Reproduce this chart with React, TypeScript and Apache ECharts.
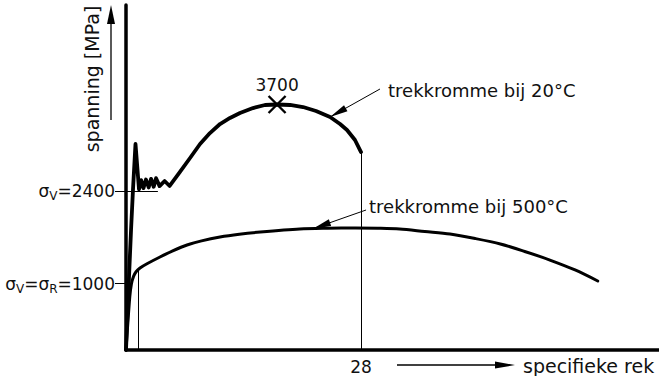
import { useEffect, useRef } from "react";
import * as echarts from "echarts";

// Tensile curve at 20 °C: specific strain [%] against stress [MPa]
const strain20 = [0, 0.24, 0.6, 0.83, 1.13, 1.55, 1.8, 2.08, 2.38, 2.7, 2.99, 3.3, 3.58, 4.0, 4.6, 5.2, 6.43, 7.63, 8.82, 10.0, 11.2, 12.39, 13.58, 15.13, 16.56, 18.0, 19.54, 21.09, 22.64, 24.31, 25.5, 26.33, 27.28, 28.0];
const stress20 = [0, 754, 1809, 2411, 3105, 2420, 2560, 2440, 2570, 2450, 2580, 2460, 2590, 2470, 2547, 2472, 2683, 2894, 3105, 3270, 3406, 3497, 3572, 3647, 3693, 3700, 3693, 3662, 3602, 3512, 3406, 3316, 3165, 2984];

// Tensile curve at 500 °C
const strain500 = [0, 0.45, 0.65, 0.9, 1.2, 1.67, 2.5, 4.05, 5.5, 7.27, 9.0, 11.2, 13.5, 16.0, 20.7, 24.0, 27.3, 30.0, 32.6, 35.6, 38.6, 41.6, 44.6, 47.5, 50.5, 53.5, 56.2];
const stress500 = [0, 800, 1000, 1110, 1180, 1236, 1300, 1402, 1490, 1583, 1645, 1703, 1745, 1778, 1824, 1835, 1839, 1835, 1824, 1786, 1748, 1680, 1598, 1485, 1356, 1206, 1040];

// Marked stresses on the vertical axis and their symbols
const yieldTicks = [1000, 2400];
const yieldSubscripts = [["V", "R"], ["V"]];
// Marked strain on the horizontal axis (fracture strain at 20 °C)
const strainTicks = [28];

// Extra reference marks
const yieldPlateauEnd = 3.8; // end of the 2400 MPa guide line
const uniformStrain500 = 1.49; // guide line under the 500 °C curve
const label20Strain = 24.31; // where the 20 °C annotation arrow points
const label500Strain = 22.28; // where the 500 °C annotation arrow points
const label20From = [30.26, 3934];
const label500From = [28.6, 2110];

const FONT = "DejaVu Sans";
const INK = "#111";

function stressAt(strains: number[], stresses: number[], e: number): number {
  for (let i = 1; i < strains.length; i++) {
    if (e <= strains[i]) {
      const t = (e - strains[i - 1]) / (strains[i] - strains[i - 1]);
      return stresses[i - 1] + t * (stresses[i] - stresses[i - 1]);
    }
  }
  return stresses[stresses.length - 1];
}

function arrowTo(from: number[], to: number[]) {
  return [
    { coord: from, symbol: "none" },
    { coord: to, symbol: "triangle", symbolSize: [7, 18], symbolOffset: [0, 9] },
  ];
}

export default function App() {
  const ref = useRef<HTMLDivElement>(null);

  useEffect(() => {
    if (!ref.current) return;
    const chart = echarts.init(ref.current, null, { renderer: "svg" });

    const last = strain20.length - 1;
    let peakIdx = 0;
    stress20.forEach((s, i) => {
      if (s > stress20[peakIdx]) peakIdx = i;
    });

    const guide = { color: "#000", width: 1, type: "solid" as const };

    chart.setOption({
      animation: false,
      backgroundColor: "#fff",
      grid: { left: 126, right: 0, top: 5, bottom: 26, containLabel: false, outerBoundsMode: "none" },
      xAxis: {
        type: "value",
        min: 0,
        max: 63.5,
        axisLine: { show: true, onZero: false, lineStyle: { color: "#000", width: 3.5 } },
        axisTick: { show: false },
        splitLine: { show: false },
        axisLabel: {
          customValues: strainTicks,
          margin: 8,
          fontSize: 17,
          fontFamily: FONT,
          color: INK,
        },
      },
      yAxis: {
        type: "value",
        min: 0,
        max: 5200,
        axisLine: { show: true, lineStyle: { color: "#000", width: 3.5 } },
        axisTick: { show: true, customValues: yieldTicks, length: 11, lineStyle: { color: "#000", width: 1 } },
        splitLine: { show: false },
        axisLabel: {
          customValues: yieldTicks,
          margin: 11,
          formatter: (v: number) => {
            const subs = yieldSubscripts[yieldTicks.indexOf(v)] || [];
            return subs.map((s) => `{s|σ}{sub|${s}}{s|=}`).join("") + `{s|${v}}`;
          },
          rich: {
            s: { fontSize: 17, fontFamily: FONT, color: INK, lineHeight: 22 },
            sub: { fontSize: 12, fontFamily: FONT, color: INK, lineHeight: 13, verticalAlign: "bottom" },
          },
        },
      },
      series: [
        {
          type: "line",
          name: "20 °C",
          data: strain20.map((e, i) => [e, stress20[i]]),
          symbol: "none",
          smooth: false,
          z: 4,
          lineStyle: { color: "#000", width: 3.8, join: "round", cap: "round" },
          markLine: {
            silent: true,
            symbol: "none",
            label: { show: false },
            lineStyle: guide,
            data: [
              [{ coord: [strain20[last], 0] }, { coord: [strain20[last], stress20[last]] }],
              [{ coord: [0, yieldTicks[1]] }, { coord: [yieldPlateauEnd, yieldTicks[1]] }],
              arrowTo(label20From, [label20Strain, stressAt(strain20, stress20, label20Strain)]),
            ],
          },
        },
        {
          type: "line",
          name: "500 °C",
          data: strain500.map((e, i) => [e, stress500[i]]),
          symbol: "none",
          smooth: 0.3,
          z: 3,
          lineStyle: { color: "#000", width: 3, join: "round", cap: "round" },
          markLine: {
            silent: true,
            symbol: "none",
            label: { show: false },
            lineStyle: guide,
            data: [
              [{ coord: [uniformStrain500, 0] }, { coord: [uniformStrain500, stressAt(strain500, stress500, uniformStrain500)] }],
              arrowTo(label500From, [label500Strain, stressAt(strain500, stress500, label500Strain)]),
            ],
          },
        },
        {
          type: "scatter",
          name: "treksterkte",
          data: [[strain20[peakIdx], stress20[peakIdx]]],
          symbol: "path://M0,0L10,10M10,0L0,10",
          symbolSize: 17,
          z: 5,
          itemStyle: { color: "none", borderColor: "#000", borderWidth: 2.4, opacity: 1 },
          label: {
            show: true,
            position: "top",
            distance: 0,
            formatter: (p: any) => String(p.value[1]),
            fontSize: 17,
            fontFamily: FONT,
            color: INK,
            opacity: 1,
          },
        },
      ],
      graphic: [
        {
          type: "text",
          x: 92,
          y: 79,
          rotation: Math.PI / 2,
          style: { text: "spanning [MPa]", fontSize: 19, fontFamily: FONT, fill: INK, align: "center", verticalAlign: "middle" },
        },
        { type: "line", shape: { x1: 111, y1: 120, x2: 111, y2: 20 }, style: { stroke: "#000", lineWidth: 1.3 } },
        { type: "polygon", shape: { points: [[111, 5], [107, 24], [115, 24]] }, style: { fill: "#000" } },
        { type: "line", shape: { x1: 397, y1: 365, x2: 500, y2: 365 }, style: { stroke: "#000", lineWidth: 1.3 } },
        { type: "polygon", shape: { points: [[515, 365], [495, 361.5], [495, 368.5]] }, style: { fill: "#000" } },
        {
          type: "text",
          x: 523,
          y: 366,
          style: { text: "specifieke rek", fontSize: 19, fontFamily: FONT, fill: INK, align: "left", verticalAlign: "middle" },
        },
        {
          type: "text",
          x: 388,
          y: 90.5,
          style: { text: "trekkromme bij 20°C", fontSize: 18, fontFamily: FONT, fill: INK, align: "left", verticalAlign: "middle" },
        },
        {
          type: "text",
          x: 369,
          y: 206,
          style: { text: "trekkromme bij 500°C", fontSize: 18, fontFamily: FONT, fill: INK, align: "left", verticalAlign: "middle" },
        },
      ],
    });

    return () => chart.dispose();
  }, []);

  return (
    <div
      ref={ref}
      style={{ position: "absolute", left: 0, top: 0, width: 659, height: 376, background: "#fff" }}
    />
  );
}
